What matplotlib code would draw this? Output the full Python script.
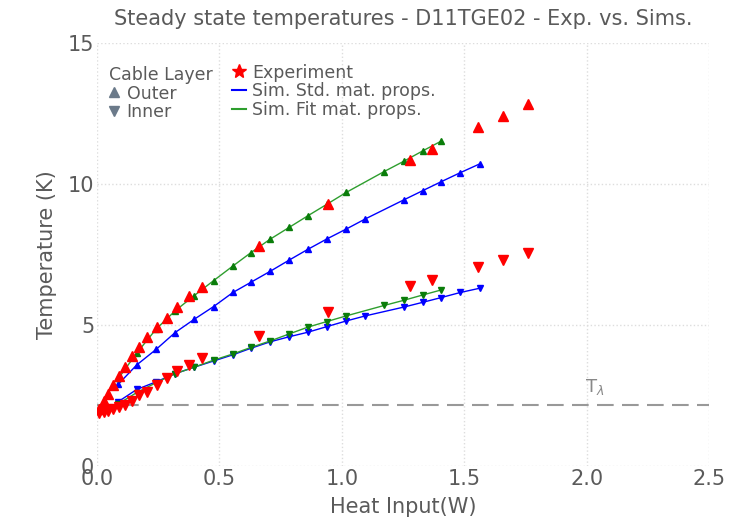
import matplotlib
matplotlib.use("Agg")
import matplotlib.pyplot as plt
from matplotlib.lines import Line2D

# Experiment
exp_x = [0.009, 0.027, 0.045, 0.066, 0.09, 0.115, 0.143, 0.173, 0.205, 0.244, 0.285,
         0.328, 0.375, 0.428, 0.662, 0.943, 1.280, 1.368, 1.556, 1.659, 1.761]
exp_outer = [2.0, 2.3, 2.55, 2.86, 3.18, 3.52, 3.90, 4.21, 4.56, 4.92, 5.26,
             5.65, 6.03, 6.36, 7.80, 9.28, 10.85, 11.23, 12.03, 12.41, 12.84]
exp_inner = [1.87, 1.90, 1.96, 2.01, 2.08, 2.16, 2.30, 2.51, 2.63, 2.87, 3.11,
             3.38, 3.58, 3.82, 4.59, 5.44, 6.38, 6.60, 7.05, 7.30, 7.54]

# Simulation, standard material properties
std_x = [0.087, 0.162, 0.241, 0.319, 0.397, 0.476, 0.555, 0.628, 0.707, 0.785, 0.861,
         0.939, 1.018, 1.096, 1.252, 1.330, 1.406, 1.484, 1.563]
std_outer = [2.90, 3.58, 4.13, 4.73, 5.20, 5.65, 6.15, 6.51, 6.90, 7.30, 7.68,
             8.05, 8.40, 8.76, 9.43, 9.76, 10.08, 10.40, 10.71]
std_inner = [2.28, 2.71, 2.98, 3.27, 3.50, 3.72, 3.94, 4.17, 4.40, 4.58, 4.74,
             4.94, 5.14, 5.32, 5.63, 5.80, 5.97, 6.15, 6.30]

# Simulation, fitted material properties
fit_x = [0.087, 0.162, 0.241, 0.319, 0.397, 0.476, 0.555, 0.628, 0.707, 0.785, 0.861,
         0.939, 1.018, 1.173, 1.252, 1.330, 1.406]
fit_outer = [3.10, 4.00, 4.85, 5.50, 6.04, 6.57, 7.09, 7.56, 8.04, 8.46, 8.87,
             9.28, 9.70, 10.44, 10.80, 11.17, 11.52]
fit_inner = [2.20, 2.60, 2.95, 3.27, 3.50, 3.75, 3.97, 4.20, 4.43, 4.68, 4.92,
             5.12, 5.32, 5.69, 5.87, 6.06, 6.24]

T_lambda = 2.17

txt = "#5a5a5a"
plt.rcParams['font.family'] = ['DejaVu Sans']
fig = plt.figure(figsize=(7.41, 5.30), dpi=100)
ax = fig.add_axes([0.131, 0.121, 0.826, 0.798])

ax.axhline(T_lambda, color="#999999", lw=1.5, ls=(0, (8, 4)), zorder=1)
ax.text(1.995, T_lambda + 0.45, r"T$_\lambda$", color="#888888", fontsize=13)

ax.plot(std_x, std_outer, color="blue", lw=1, marker="^", ms=4.5, zorder=3)
ax.plot(std_x, std_inner, color="blue", lw=1, marker="v", ms=4.5, zorder=3)
ax.plot(fit_x, fit_outer, color="#2e9e2e", lw=1, marker="^", ms=4.5, zorder=3,
        markerfacecolor="#0a7d0a", markeredgecolor="#0a7d0a")
ax.plot(fit_x, fit_inner, color="#2e9e2e", lw=1, marker="v", ms=4.5, zorder=3,
        markerfacecolor="#0a7d0a", markeredgecolor="#0a7d0a")
ax.plot(exp_x, exp_outer, ls="none", marker="^", ms=7, color="red", zorder=4)
ax.plot(exp_x, exp_inner, ls="none", marker="v", ms=7, color="red", zorder=4)

ax.set_xlim(0, 2.5)
ax.set_ylim(0, 15)
ax.set_xticks([0, 0.5, 1.0, 1.5, 2.0, 2.5])
ax.set_xticklabels(["0.0", "0.5", "1.0", "1.5", "2.0", "2.5"])
ax.set_yticks([0, 5, 10, 15])
for s in ax.spines.values():
    s.set_visible(False)
ax.tick_params(length=0, labelsize=15, labelcolor=txt, pad=2)
ax.grid(True, color="#dddddd", ls=":", lw=1)
ax.set_axisbelow(True)
ax.set_xlabel("Heat Input(W)", fontsize=15, color=txt, labelpad=6)
ax.set_ylabel("Temperature (K)", fontsize=15, color=txt, labelpad=8)
ax.set_title("Steady state temperatures - D11TGE02 - Exp. vs. Sims.",
             fontsize=15, color=txt, pad=13)

lc = "#6b7a8a"
h1 = [Line2D([], [], ls="none", marker="^", color=lc, ms=7),
      Line2D([], [], ls="none", marker="v", color=lc, ms=7)]
leg1 = ax.legend(h1, ["Outer", "Inner"], title="Cable Layer", loc="upper left",
                 bbox_to_anchor=(0.0, 0.975), frameon=False, fontsize=12.5,
                 title_fontsize=12.5, handlelength=0.6, handletextpad=0.4,
                 labelspacing=0.05, borderaxespad=0.3)
leg1._legend_box.align = "left"
for t in leg1.get_texts():
    t.set_color(txt)
leg1.get_title().set_color(txt)
ax.add_artist(leg1)

h2 = [Line2D([], [], ls="none", marker="*", color="red", ms=10),
      Line2D([], [], color="blue", lw=1.5),
      Line2D([], [], color="#2e9e2e", lw=1.5)]
leg2 = ax.legend(h2, ["Experiment", "Sim. Std. mat. props.", "Sim. Fit mat. props."],
                 loc="upper left", bbox_to_anchor=(0.2, 0.98), frameon=False,
                 fontsize=12.5, handlelength=0.8, handletextpad=0.4,
                 labelspacing=0.05, borderaxespad=0.3)
for t in leg2.get_texts():
    t.set_color(txt)

fig.savefig("out.png", dpi=100)
